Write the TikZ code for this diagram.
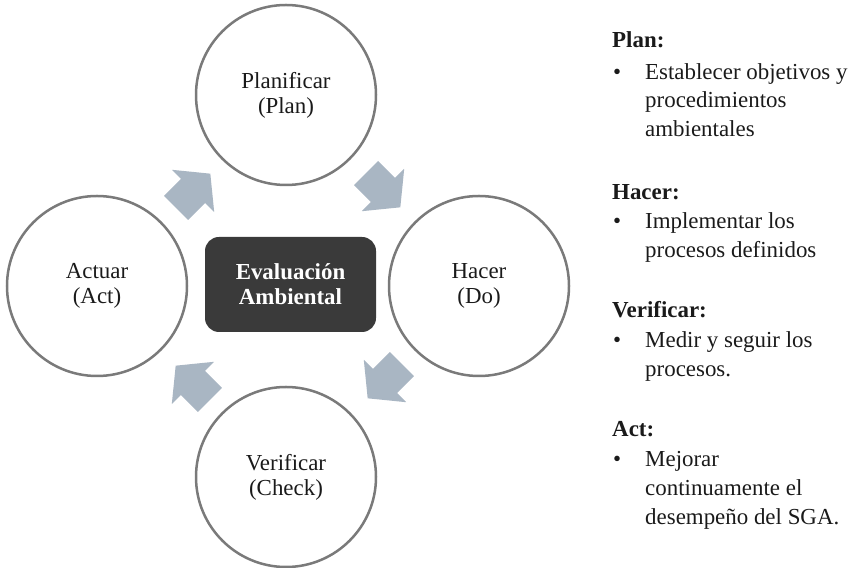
\documentclass[tikz,border=0pt]{standalone}
\usepackage{fontspec}
\setmainfont{Liberation Serif}
\definecolor{ring}{HTML}{7A7A7A}
\definecolor{arr}{HTML}{A9B6C3}
\definecolor{hub}{HTML}{3A3A3A}
\definecolor{ink}{HTML}{1A1A1A}
\newcommand\cycarrow[3]{\fill[cyc,shift={(#1,#2)},rotate=#3] (-24,-17) -- (0,-17) -- (0,-30) -- (24.5,0) -- (0,30) -- (0,17) -- (-24,17) -- cycle;}
\begin{document}
\begin{tikzpicture}[x=1bp,y=1bp,
  phase/.style={circle,draw=ring,line width=2.5bp,minimum size=180bp,inner sep=0pt,align=center,text=ink,font=\fontsize{23}{25}\selectfont},
  hubbox/.style={rounded corners=14bp,fill=hub,minimum width=171bp,minimum height=95bp,inner sep=0pt,text=white,align=center,font=\fontsize{23}{25}\selectfont\bfseries},
  cyc/.style={fill=arr},
  headtxt/.style={anchor=base west,inner sep=0pt,text=ink,font=\fontsize{23}{28}\selectfont\bfseries},
  itemtxt/.style={anchor=base west,inner sep=0pt,text=ink,font=\fontsize{23}{28}\selectfont}]
\useasboundingbox (0,0) rectangle (859,568);
% cycle
\node[phase] (plan) at (286,473) {Planificar\\(Plan)};
\node[phase] (do) at (479,282) {Hacer\\(Do)};
\node[phase] (check) at (286,91) {Verificar\\(Check)};
\node[phase] (act) at (97,282) {Actuar\\(Act)};
\node[hubbox] (hub) at (290.5,283.5) {Evaluación\\Ambiental};
\cycarrow{193}{377}{45}
\cycarrow{383}{378}{-45}
\cycarrow{385}{187}{-135}
\cycarrow{193}{185}{135}
% legend
\node[headtxt] (h1) at (612,520) {Plan:};
\node[itemtxt] (b1) at (613,488) {\textbullet};
\node[itemtxt] (t1a) at (645,488) {Establecer objetivos y};
\node[itemtxt] (t1b) at (645,460) {procedimientos};
\node[itemtxt] (t1c) at (645,431) {ambientales};
\node[headtxt] (h2) at (612,368) {Hacer:};
\node[itemtxt] (b2) at (613,339) {\textbullet};
\node[itemtxt] (t2a) at (645,339) {Implementar los};
\node[itemtxt] (t2b) at (645,310) {procesos definidos};
\node[headtxt] (h3) at (612,250) {Verificar:};
\node[itemtxt] (b3) at (613,220) {\textbullet};
\node[itemtxt] (t3a) at (645,220) {Medir y seguir los};
\node[itemtxt] (t3b) at (645,191) {procesos.};
\node[headtxt] (h4) at (612,131) {Act:};
\node[itemtxt] (b4) at (613,101) {\textbullet};
\node[itemtxt] (t4a) at (645,101) {Mejorar};
\node[itemtxt] (t4b) at (645,72) {continuamente el};
\node[itemtxt] (t4c) at (645,43) {desempeño del SGA.};
\end{tikzpicture}
\end{document}
